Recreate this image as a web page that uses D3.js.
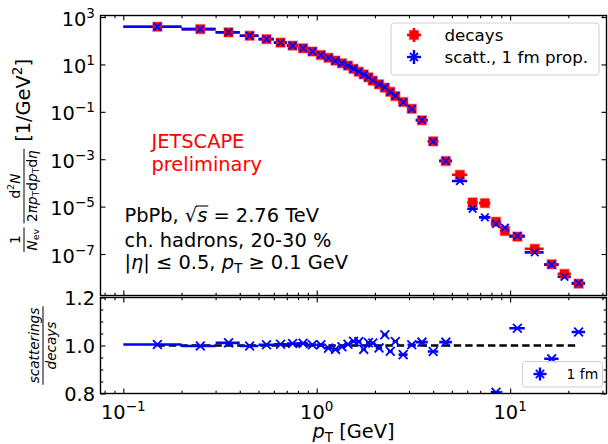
<!DOCTYPE html>
<html>
<head>
<meta charset="utf-8">
<script src="https://cdn.jsdelivr.net/npm/d3@7"></script>
<style>
    body { margin: 0; background: #fff; }
    svg { display: block; font-family: "DejaVu Sans", sans-serif; }
</style>
</head>
<body>
<svg id="chart" width="608" height="444"></svg>
<script>
// bin centres and half widths [GeV]
var pT = [0.15, 0.25, 0.35, 0.45, 0.55, 0.65, 0.75, 0.85, 0.95, 1.05, 1.15, 1.25, 1.35, 1.45, 1.55,
    1.65, 1.75, 1.85, 1.95, 2.1, 2.25, 2.4, 2.55, 2.8, 3.1, 3.5, 4.0, 4.65, 5.5, 6.4, 7.4, 8.45,
    9.4, 10.9, 13.4, 16.4, 19.1, 22.6];
var pTHalfWidth = [0.05, 0.05, 0.05, 0.05, 0.05, 0.05, 0.05, 0.05, 0.05, 0.05, 0.05, 0.05, 0.05, 0.05, 0.05,
    0.05, 0.05, 0.05, 0.05, 0.08, 0.07, 0.07, 0.08, 0.15, 0.15, 0.25, 0.25, 0.35, 0.5, 0.4, 0.5, 0.5,
    0.5, 1.0, 1.5, 1.4, 1.5, 1.8];

// yields [1/GeV^2]
var decays = [390, 310, 226, 162, 117, 83, 62, 48, 35, 25, 19, 14.5, 11.2, 8.9, 6.5,
    4.9, 3.8, 2.86, 2.05, 1.45, 1.04, 0.70, 0.46, 0.26, 0.134, 0.044, 5.7e-3, 8.4e-4, 2.2e-4, 1.5e-5, 1.4e-5, 2.3e-6,
    9.3e-7, 5.4e-7, 1.66e-7, 3.7e-8, 1.45e-8, 5.6e-9];
var scatt = [391, 309, 228, 162, 117, 83, 62, 48, 35, 25, 18.8, 14.3, 11.1, 8.9, 6.6,
    5.0, 3.7, 2.9, 2.07, 1.44, 1.09, 0.68, 0.47, 0.25, 0.134, 0.0445, 5.56e-3, 8.5e-4, 1.2e-4, 8.1e-6, 3.5e-6, 1.85e-6,
    1.3e-6, 5.8e-7, 1.17e-7, 3.5e-8, 1.1e-8, 5.9e-9];

// scatterings / decays, lower panel
var ratio = [1.004, 0.998, 1.011, 0.998, 1.003, 1.005, 1.008, 1.009, 1.003, 1.003, 0.989, 0.984, 0.995, 1.005, 1.018,
    1.016, 0.984, 1.012, 1.010, 0.990, 1.045, 0.976, 1.017, 0.962, 1.003, 1.014, 0.975, 1.014, 0.54, 0.54, 0.25, 0.805,
    1.38, 1.072, 0.70, 0.945, 0.76, 1.056];

var xTickExp = [-1, 0, 1];
var yTickExp = [3, 1, -1, -3, -5, -7];
var ratioTicks = [0.8, 1.0, 1.2];

var left = 100.5, right = 606.5;
var topY0 = 15.5, topY1 = 295.5;
var botY0 = 297.5, botY1 = 393.5;
var fs = 19.4;

var x = d3.scaleLog().domain([0.0762, 31.5]).range([left, right]);
var y = d3.scaleLog().domain([1.774e-9, 1161]).range([topY1, topY0]);
var yr = d3.scaleLinear().domain([0.8, 1.2]).range([botY1, botY0]);

var pts = pT.map(function (p, i) {
    return { pT: p, hw: pTHalfWidth[i], decays: decays[i], scatt: scatt[i], ratio: ratio[i] };
});

var svg = d3.select('#chart');
var defs = svg.append('defs');
defs.append('clipPath').attr('id', 'clip-top').append('rect')
    .attr('x', left).attr('y', topY0).attr('width', right - left).attr('height', topY1 - topY0);
defs.append('clipPath').attr('id', 'clip-bot').append('rect')
    .attr('x', left).attr('y', botY0).attr('width', right - left).attr('height', botY1 - botY0);

// text with italic / sub / superscript runs
function addRuns(text, runs, size) {
    var shift = 0;
    runs.forEach(function (r) {
        var target = r.sub ? size * 0.22 : (r.sup ? -size * 0.41 : 0);
        text.append('tspan')
            .attr('dy', target - shift)
            .attr('font-size', (r.sub || r.sup) ? size * 0.7 : size)
            .attr('font-style', r.it ? 'italic' : null)
            .text(r.t);
        shift = target;
    });
    return text;
}

function xMark(sel, half) {
    return sel.attr('d', 'M' + (-half) + ',' + (-half) + 'L' + half + ',' + half +
        'M' + (-half) + ',' + half + 'L' + half + ',' + (-half));
}

// ---- top panel ----
var gTop = svg.append('g').attr('clip-path', 'url(#clip-top)');

gTop.selectAll('.red-bar').data(pts).enter().append('line')
    .attr('x1', function (d) { return x(d.pT - d.hw); })
    .attr('x2', function (d) { return x(d.pT + d.hw); })
    .attr('y1', function (d) { return y(d.decays); })
    .attr('y2', function (d) { return y(d.decays); })
    .attr('stroke', '#ff0000').attr('stroke-width', 2.6);

gTop.selectAll('.blue-bar').data(pts).enter().append('line')
    .attr('x1', function (d) { return x(d.pT - d.hw); })
    .attr('x2', function (d) { return x(d.pT + d.hw); })
    .attr('y1', function (d) { return y(d.scatt); })
    .attr('y2', function (d) { return y(d.scatt); })
    .attr('stroke', '#0000ff').attr('stroke-width', 2.6);

gTop.selectAll('.red-sq').data(pts).enter().append('rect')
    .attr('x', function (d) { return x(d.pT) - 4.5; })
    .attr('y', function (d) { return y(d.decays) - 4.5; })
    .attr('width', 9).attr('height', 9)
    .attr('fill', '#ff0000')
    .attr('stroke', 'rgba(255,0,0,0.35)').attr('stroke-width', 1.6);

gTop.selectAll('.blue-x').data(pts).enter().append('path')
    .attr('transform', function (d) { return 'translate(' + x(d.pT) + ',' + y(d.scatt) + ')'; })
    .call(xMark, 3.8)
    .attr('fill', 'none').attr('stroke', '#0000ff').attr('stroke-width', 1.8);

// ---- bottom panel ----
var gBot = svg.append('g').attr('clip-path', 'url(#clip-bot)');

gBot.append('path')
    .datum([pT[0], pT[pT.length - 1]])
    .attr('d', d3.line().x(function (d) { return x(d); }).y(function () { return yr(1); }))
    .attr('fill', 'none').attr('stroke', '#000').attr('stroke-width', 2.6)
    .attr('stroke-dasharray', '7.4,4');

gBot.selectAll('.r-bar').data(pts).enter().append('line')
    .attr('x1', function (d) { return x(d.pT - d.hw); })
    .attr('x2', function (d) { return x(d.pT + d.hw); })
    .attr('y1', function (d) { return yr(d.ratio); })
    .attr('y2', function (d) { return yr(d.ratio); })
    .attr('stroke', '#0000ff').attr('stroke-width', 2.6);

gBot.selectAll('.r-x').data(pts).enter().append('path')
    .attr('transform', function (d) { return 'translate(' + x(d.pT) + ',' + yr(d.ratio) + ')'; })
    .call(xMark, 4.4)
    .attr('fill', 'none').attr('stroke', '#0000ff').attr('stroke-width', 1.8);

// ---- ticks ----
var xMajor = xTickExp.map(function (e) { return Math.pow(10, e); });
var xMinor = [];
[0.01, 0.1, 1, 10].forEach(function (dec) {
    for (var k = 2; k <= 9; k++) {
        var v = dec * k;
        if (v >= x.domain()[0] && v <= x.domain()[1]) xMinor.push(v);
    }
});
var yMajor = yTickExp.map(function (e) { return Math.pow(10, e); });
var rMinor = d3.range(1, 8).map(function (i) { return 0.8 + 0.05 * i; })
    .filter(function (v) { return Math.abs(v - 1) > 1e-6; });

function ticks(axis, values, len, tx, ty) {
    svg.append('g')
        .attr('transform', 'translate(' + tx + ',' + ty + ')')
        .call(axis.tickValues(values).tickSize(-len).tickFormat(''))
        .call(function (g) { g.select('.domain').remove(); })
        .selectAll('line').attr('stroke-width', 1.1);
}

[[topY0, d3.axisTop], [topY1, d3.axisBottom], [botY0, d3.axisTop], [botY1, d3.axisBottom]].forEach(function (p) {
    ticks(p[1](x), xMajor, 5, 0, p[0]);
    ticks(p[1](x), xMinor, 2.8, 0, p[0]);
});
ticks(d3.axisLeft(y), yMajor, 5, left, 0);
ticks(d3.axisRight(y), yMajor, 5, right, 0);
ticks(d3.axisLeft(yr), ratioTicks, 5, left, 0);
ticks(d3.axisRight(yr), ratioTicks, 5, right, 0);
ticks(d3.axisLeft(yr), rMinor, 2.8, left, 0);
ticks(d3.axisRight(yr), rMinor, 2.8, right, 0);

// frames
[[topY0, topY1], [botY0, botY1]].forEach(function (p) {
    svg.append('rect')
        .attr('x', left).attr('y', p[0]).attr('width', right - left).attr('height', p[1] - p[0])
        .attr('fill', 'none').attr('stroke', '#000').attr('stroke-width', 1.4);
});

function powText(e) { return e < 0 ? '\u2212' + (-e) : String(e); }

xTickExp.forEach(function (e) {
    addRuns(svg.append('text').attr('x', x(Math.pow(10, e))).attr('y', 418.5)
        .attr('text-anchor', 'middle').attr('font-size', fs),
        [{ t: '10' }, { t: powText(e), sup: true }], fs);
});
yTickExp.forEach(function (e) {
    addRuns(svg.append('text').attr('x', 95).attr('y', y(Math.pow(10, e)) + 8.5)
        .attr('text-anchor', 'end').attr('font-size', fs),
        [{ t: '10' }, { t: powText(e), sup: true }], fs);
});
ratioTicks.forEach(function (v) {
    svg.append('text').attr('x', 95).attr('y', yr(v) + 7)
        .attr('text-anchor', 'end').attr('font-size', fs)
        .text(v.toFixed(1));
});

// ---- axis labels ----
addRuns(svg.append('text').attr('x', (left + right) / 2).attr('y', 437.5)
    .attr('text-anchor', 'middle').attr('font-size', fs),
    [{ t: 'p', it: true }, { t: 'T', sub: true }, { t: ' [GeV]' }], fs);

var small = fs * 0.7;

function fraction(g, x0, num, den, size) {
    var n = addRuns(g.append('text').attr('y', -4).attr('font-size', size), num, size);
    var dn = addRuns(g.append('text').attr('y', 12.5).attr('font-size', size), den, size);
    var w = Math.max(n.node().getComputedTextLength(), dn.node().getComputedTextLength()) + 3;
    n.attr('x', x0 + w / 2).attr('text-anchor', 'middle');
    dn.attr('x', x0 + w / 2).attr('text-anchor', 'middle');
    g.append('line').attr('x1', x0).attr('x2', x0 + w).attr('y1', 0).attr('y2', 0)
        .attr('stroke', '#000').attr('stroke-width', 1);
    return w;
}

var numN = [{ t: '1' }];
var denN = [{ t: 'N', it: true }, { t: 'ev', sub: true }];
var numD = [{ t: 'd' }, { t: '2', sup: true }, { t: 'N', it: true }];
var denD = [{ t: '2' }, { t: '\u03c0', it: true }, { t: 'p', it: true }, { t: 'T', sub: true }, { t: 'd' },
    { t: 'p', it: true }, { t: 'T', sub: true }, { t: 'd' }, { t: '\u03b7', it: true }];

var yLab = svg.append('g').attr('transform', 'translate(24,' + ((topY0 + topY1) / 2) + ') rotate(-90)');
var unit = addRuns(yLab.append('text').attr('y', 6).attr('font-size', fs),
    [{ t: '[1/GeV' }, { t: '2', sup: true }, { t: ']' }], fs);
var wUnit = unit.node().getComputedTextLength();
var probe = yLab.append('g');
var wA = fraction(probe, 0, numN, denN, small);
var wB = fraction(probe, 0, numD, denD, small);
probe.remove();
var start = -(wA + 4 + wB + 7 + wUnit) / 2;
fraction(yLab, start, numN, denN, small);
fraction(yLab, start + wA + 4, numD, denD, small);
unit.attr('x', start + wA + 4 + wB + 7);

var rLab = svg.append('g').attr('transform', 'translate(43,' + ((botY0 + botY1) / 2) + ') rotate(-90)');
var probe2 = rLab.append('g');
var wR = fraction(probe2, 0, [{ t: 'scatterings', it: true }], [{ t: 'decays', it: true }], small);
probe2.remove();
fraction(rLab, -wR / 2, [{ t: 'scatterings', it: true }], [{ t: 'decays', it: true }], small);

// ---- annotations ----
svg.append('text').attr('x', 151.5).attr('y', 147.5).attr('font-size', fs)
    .attr('fill', '#ff0000').text('JETSCAPE');
svg.append('text').attr('x', 151.5).attr('y', 170.5).attr('font-size', fs)
    .attr('fill', '#ff0000').text('preliminary');

var line1 = addRuns(svg.append('text').attr('x', 124.5).attr('y', 221.5).attr('font-size', fs),
    [{ t: 'PbPb, \u221a' }, { t: 's', it: true }, { t: ' = 2.76 TeV' }], fs);
var rootBox = line1.node().getExtentOfChar(6);
var sBox = line1.node().getExtentOfChar(7);
svg.append('line')
    .attr('x1', rootBox.x + rootBox.width - 1).attr('x2', sBox.x + sBox.width + 1)
    .attr('y1', rootBox.y + 2.5).attr('y2', rootBox.y + 2.5)
    .attr('stroke', '#000').attr('stroke-width', 1.1);
svg.append('text').attr('x', 124.5).attr('y', 246.5).attr('font-size', fs)
    .text('ch. hadrons, 20-30 %');
addRuns(svg.append('text').attr('x', 124.5).attr('y', 268.5).attr('font-size', fs),
    [{ t: '|' }, { t: '\u03b7', it: true }, { t: '| \u2264 0.5, ' }, { t: 'p', it: true }, { t: 'T', sub: true },
        { t: ' \u2265 0.1 GeV' }], fs);

// ---- legends ----
function asterisk(g, cx, cy, color, arm, xh) {
    g.append('line').attr('x1', cx - arm).attr('x2', cx + arm).attr('y1', cy).attr('y2', cy)
        .attr('stroke', color).attr('stroke-width', 2.4);
    g.append('line').attr('x1', cx).attr('x2', cx).attr('y1', cy - arm).attr('y2', cy + arm)
        .attr('stroke', color).attr('stroke-width', 2.4);
    g.append('path').attr('transform', 'translate(' + cx + ',' + cy + ')').call(xMark, xh)
        .attr('fill', 'none').attr('stroke', color).attr('stroke-width', 1.8);
}

var lfs = 16.7;
var leg = svg.append('g');
leg.append('rect').attr('x', 391).attr('y', 23).attr('width', 208).attr('height', 52).attr('rx', 3)
    .attr('fill', 'rgba(255,255,255,0.8)').attr('stroke', '#d0d0d0').attr('stroke-width', 1);
leg.append('line').attr('x1', 407).attr('x2', 421).attr('y1', 35).attr('y2', 35)
    .attr('stroke', '#ff0000').attr('stroke-width', 2.6);
leg.append('line').attr('x1', 414).attr('x2', 414).attr('y1', 28).attr('y2', 42)
    .attr('stroke', '#ff0000').attr('stroke-width', 2.6);
leg.append('rect').attr('x', 409.5).attr('y', 30.5).attr('width', 9).attr('height', 9)
    .attr('fill', '#ff0000').attr('stroke', 'rgba(255,0,0,0.35)').attr('stroke-width', 1.6);
asterisk(leg, 414, 57, '#0000ff', 7, 4);
leg.append('text').attr('x', 444.5).attr('y', 41).attr('font-size', lfs).text('decays');
leg.append('text').attr('x', 444.5).attr('y', 62.5).attr('font-size', lfs).text('scatt., 1 fm prop.');

var leg2 = svg.append('g');
leg2.append('rect').attr('x', 522.5).attr('y', 361.5).attr('width', 80).attr('height', 25.5).attr('rx', 3)
    .attr('fill', 'rgba(255,255,255,0.8)').attr('stroke', '#d0d0d0').attr('stroke-width', 1);
asterisk(leg2, 540, 374, '#0000ff', 6.5, 4.2);
leg2.append('text').attr('x', 566.5).attr('y', 379).attr('font-size', 13.9).text('1 fm');
</script>
</body>
</html>
